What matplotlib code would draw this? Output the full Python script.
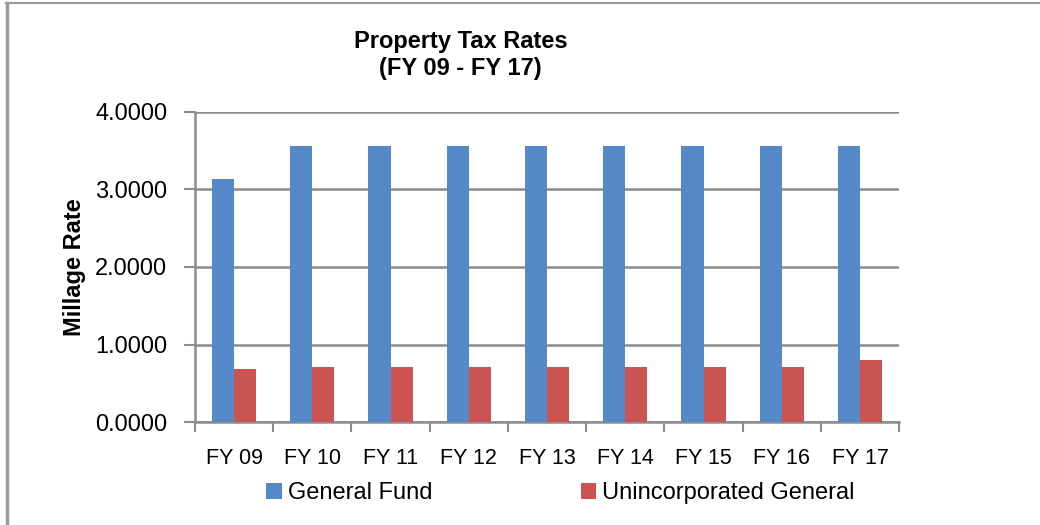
import matplotlib
matplotlib.use("Agg")
import matplotlib.pyplot as plt
import numpy as np
from matplotlib.patches import Patch
from matplotlib.lines import Line2D

years = ["FY 09", "FY 10", "FY 11", "FY 12", "FY 13", "FY 14", "FY 15", "FY 16", "FY 17"]
general_fund = [3.14, 3.56, 3.56, 3.56, 3.56, 3.56, 3.56, 3.56, 3.56]
unincorporated = [0.68, 0.71, 0.71, 0.71, 0.71, 0.71, 0.71, 0.71, 0.80]
series_names = ["General Fund", "Unincorporated General"]

blue = "#5589C8"
red = "#CB5452"
grid_c = "#8C8C8C"

plt.rcParams['font.family'] = ['Liberation Sans', 'DejaVu Sans']

fig = plt.figure(figsize=(10.4, 5.25), dpi=100)
ax = fig.add_axes([0.1875, 0.196, 0.677, 0.591])

x = np.arange(len(years))
w = 0.283
ax.bar(x - w / 2, general_fund, w, color=blue, zorder=3)
ax.bar(x + w / 2, unincorporated, w, color=red, zorder=3)

ax.set_xlim(-0.5, len(years) - 0.5)
ax.set_ylim(0, 4)
ax.set_yticks([0, 1, 2, 3, 4])
ax.set_yticklabels(["%.4f" % v for v in [0, 1, 2, 3, 4]], fontsize=17)
ax.yaxis.grid(True, color=grid_c, linewidth=1.8, zorder=0)

# category labels centred, tick marks on the boundaries
ax.set_xticks(x)
ax.set_xticklabels(years, fontsize=15.5)
ax.tick_params(axis='x', length=0, pad=19)
ax.set_xticks(np.arange(-0.5, len(years)), minor=True)
ax.tick_params(axis='x', which='minor', length=7, color=grid_c, width=1.5)
ax.tick_params(axis='y', length=8, color=grid_c, width=1.5, pad=12)

for s in ["top", "right"]:
    ax.spines[s].set_visible(False)
for s in ["left", "bottom"]:
    ax.spines[s].set_color(grid_c)
    ax.spines[s].set_linewidth(1.8)

ax.set_ylabel("Millage Rate", fontsize=17, fontweight='bold')
ax.yaxis.set_label_coords(-0.155, 0.5)

fig.text(0.443, 0.895, "Property Tax Rates\n(FY 09 - FY 17)", ha='center', va='center',
         fontsize=17, fontweight='bold', linespacing=1.25)

handles = [Patch(facecolor=blue), Patch(facecolor=red)]
fig.legend(handles, series_names, loc='center', bbox_to_anchor=(0.539, 0.061), ncol=2,
           frameon=False, fontsize=17, handlelength=0.65, handleheight=0.65,
           handletextpad=0.25, columnspacing=6.3, borderpad=0.2)

# outer chart frame (left and top edges only)
fig.add_artist(Line2D([0.007, 0.007], [0, 0.994], color="#999999", linewidth=2.5, transform=fig.transFigure))
fig.add_artist(Line2D([0.006, 1], [0.994, 0.994], color="#999999", linewidth=1.5, transform=fig.transFigure))

fig.savefig("out.png", dpi=100)
